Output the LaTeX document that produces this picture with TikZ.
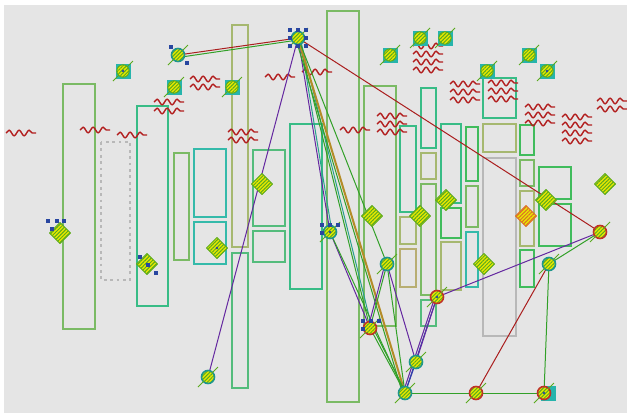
\documentclass[tikz,border=0pt]{standalone}
\usetikzlibrary{patterns.meta,decorations.pathmorphing}
\definecolor{bgc}{RGB}{229,229,229}
\definecolor{g1}{RGB}{122,186,100}
\definecolor{g2}{RGB}{56,188,134}
\definecolor{g3}{RGB}{52,186,170}
\definecolor{g4}{RGB}{166,184,112}
\definecolor{g5}{RGB}{184,174,114}
\definecolor{g6}{RGB}{64,188,92}
\definecolor{g7}{RGB}{84,188,124}
\definecolor{gr}{RGB}{184,184,184}
\definecolor{wred}{RGB}{178,30,30}
\definecolor{cred}{RGB}{170,30,30}
\definecolor{cpurp}{RGB}{100,40,160}
\definecolor{cgreen}{RGB}{50,160,40}
\definecolor{corange}{RGB}{180,140,40}
\definecolor{cteal}{RGB}{40,160,140}
\definecolor{cblue}{RGB}{50,60,170}
\definecolor{tealm}{RGB}{38,180,172}
\definecolor{yelm}{RGB}{232,232,0}
\definecolor{hatchg}{RGB}{90,170,30}
\definecolor{hblue}{RGB}{40,70,160}
\definecolor{orm}{RGB}{220,110,40}
\definecolor{redo}{RGB}{190,50,40}
\definecolor{tealo}{RGB}{30,150,140}
\tikzset{
  rectst/.style={line width=2.9pt},
  wave/.style={draw=wred, line width=1.4pt, decorate,
    decoration={snake, amplitude=2.8pt, segment length=10pt}},
  ered/.style={draw=cred, line width=1pt},
  epurp/.style={draw=cpurp, line width=1pt},
  egreen/.style={draw=cgreen, line width=1pt},
  eteal/.style={draw=cteal, line width=1pt},
  eblue/.style={draw=cblue, line width=1pt},
  eorange/.style={draw=corange, line width=2pt},
  hatch/.style={pattern={Lines[angle=45,distance=2.6pt,line width=1pt]}, pattern color=#1},
  sqm/.pic={
    \fill[tealm] (-7.5,-7.5) rectangle (7.5,7.5);
    \fill[yelm] (0,0) circle (6.2);
    \fill[hatch=hatchg] (0,0) circle (6.2);
    \draw[hatchg, line width=0.9pt] (0,0) circle (6.2);
    \draw[hatchg, line width=0.9pt] (-10,10) -- (-4,4) (4,-4) -- (10,-10);
  },
  circm/.pic={
    \fill[yelm] (0,0) circle (6.5);
    \fill[hatch=hatchg] (0,0) circle (6.5);
    \draw[#1, line width=1.6pt] (0,0) circle (6.5);
    \draw[hatchg, line width=0.9pt] (-10,10) -- (-4,4) (4,-4) -- (10,-10);
  },
  diam/.pic={
    \fill[yelm] (0,-10.5) -- (10.5,0) -- (0,10.5) -- (-10.5,0) -- cycle;
    \fill[hatch=#1] (0,-10.5) -- (10.5,0) -- (0,10.5) -- (-10.5,0) -- cycle;
    \draw[#1, line width=1pt, line join=round] (0,-10.5) -- (10.5,0) -- (0,10.5) -- (-10.5,0) -- cycle;
  },
  handle/.style={fill=hblue}
}
\begin{document}
\begin{tikzpicture}[x=1pt,y=-1pt]
\useasboundingbox (0,0) rectangle (627,413);
\fill[white] (0,0) rectangle (627,413);
\fill[bgc] (4,5) rectangle (627,413);
% rectangles
\foreach \xa/\ya/\xb/\yb/\col in {
  63/84/95/329/g1, 137/106/168/306/g2, 174/153/189/260/g1,
  194/149/226/217/g3, 194/222/226/264/g3, 232/25/248/247/g4,
  232/253/248/388/g7, 253/150/285/226/g7, 253/231/285/262/g7,
  290/124/322/289/g2, 327/11/359/402/g1, 364/86/396/326/g1,
  400/126/416/212/g2, 400/217/416/244/g4, 400/249/416/287/g5,
  421/88/436/148/g2, 421/153/436/179/g4, 421/184/436/295/g1,
  421/300/436/326/g7, 441/124/461/203/g2, 441/208/461/238/g6,
  441/242/461/290/g4, 466/127/478/181/g6, 466/186/478/227/g1,
  466/232/478/287/g3, 483/78/516/118/g2, 483/124/516/152/g4,
  483/158/516/336/gr, 520/125/534/155/g6, 520/160/534/186/g1,
  520/191/534/246/g4, 520/250/534/287/g6, 539/167/571/199/g6,
  539/204/571/246/g6}
  \draw[rectst, draw=\col] (\xa,\ya) rectangle (\xb,\yb);
\draw[line width=2.9pt, draw=gr, dash pattern=on 2.8pt off 3.6pt] (101,142) rectangle (130,280);
% waves
\foreach \xa/\xb/\y in {
  6/36/133, 80/110/130, 117/147/135, 154/184/102, 154/184/111,
  190/220/79, 190/220/87, 228/258/132, 228/258/140, 265/295/77,
  302/332/72, 340/370/130, 377/407/116, 377/407/124, 377/407/132,
  413/443/46, 413/443/54, 413/443/62, 413/443/70,
  450/480/84, 450/480/92, 450/480/100,
  488/518/83, 488/518/91, 488/518/99,
  525/555/107, 525/555/115, 525/555/123,
  562/592/117, 562/592/125, 562/592/133, 562/592/141,
  597/627/101, 597/627/109}
  \draw[wave] (\xa,\y) -- (\xb,\y);
% graph nodes
\coordinate (a) at (178,55);
\coordinate (b) at (298,38);
\coordinate (c) at (330,232);
\coordinate (d) at (387,264);
\coordinate (e) at (370,328);
\coordinate (f) at (437,297);
\coordinate (g) at (416,362);
\coordinate (h) at (405,393);
\coordinate (i) at (476,393);
\coordinate (j) at (544,393);
\coordinate (k) at (549,264);
\coordinate (l) at (600,232);
\coordinate (m) at (208,377);
% connectors
\draw[ered] (a) -- (b);
\draw[egreen] ([yshift=-2.5pt]a) -- ([yshift=-2pt]b);
\draw[ered] (b) -- (l);
\draw[epurp] (b) -- (m);
\draw[epurp] (b) -- (c);
\draw[eteal] ([xshift=2pt]b) -- ([xshift=2pt]c);
\draw[epurp] (c) -- (e);
\draw[egreen] (b) -- (e);
\draw[eteal] ([xshift=2pt]b) -- ([xshift=2pt]e);
\draw[eorange] (b) -- (h);
\draw[egreen] ([xshift=-2.5pt]b) -- ([xshift=-2.5pt]h);
\draw[egreen] (b) -- (d);
\draw[egreen] (c) -- (h);
\draw[egreen] (e) -- (h);
\draw[egreen] ([xshift=3pt]e) -- ([xshift=1pt]h);
\draw[egreen] (e) -- (d);
\draw[epurp] ([xshift=-2pt]e) -- ([xshift=-2pt]d);
\draw[epurp] (d) -- (g);
\draw[egreen] (d) -- (h);
\draw[eblue] (h) -- (f);
\draw[epurp] ([xshift=-2pt]h) -- ([xshift=-2pt]f);
\draw[epurp] (g) -- (f);
\draw[eblue] (h) -- (g);
\draw[epurp] (f) -- (l);
\draw[egreen] (h) -- (i);
\draw[egreen] (i) -- (j);
\draw[ered] (i) -- (k);
\draw[egreen] (j) -- (k);
\draw[egreen] (k) -- (l);
% square markers
\foreach \p in {(123,71),(174,87),(232,87),(390,55),(420,38),(445,38),(487,71),(529,55),(547,71)}
  \pic at \p {sqm};
% diamonds
\foreach \p in {(60,233),(147,264),(217,248),(262,184),(372,216),(420,216),(446,200),(484,264),(546,200),(605,184)}
  \pic at \p {diam=hatchg};
\pic at (526,216) {diam=orm};
% circle markers
\fill[tealm] (541,386) rectangle (556,401);
\foreach \n/\c in {a/tealo,b/tealo,c/tealo,d/tealo,g/tealo,h/tealo,k/tealo,m/tealo,e/redo,f/redo,i/redo,j/redo,l/redo}
  \pic at (\n) {circm=\c};
% selection handles
\foreach \p in {(290,30),(298,30),(306,30),(290,38),(306,38),(290,46),(298,46),(306,46),
  (171,47),(187,63),(322,225),(330,225),(338,225),(322,233),
  (363,321),(371,321),(379,321),(363,329),
  (48,221),(57,221),(64,221),(52,229),(140,257),(148,265),(156,273)}
  \fill[handle] \p ++(-1.7,-1.7) rectangle ++(3.4,3.4);
\foreach \p in {(217,248),(123,71),(547,71),(544,393),(437,297),(330,232)}
  \fill[handle] \p circle (1.4);
\end{tikzpicture}
\end{document}
